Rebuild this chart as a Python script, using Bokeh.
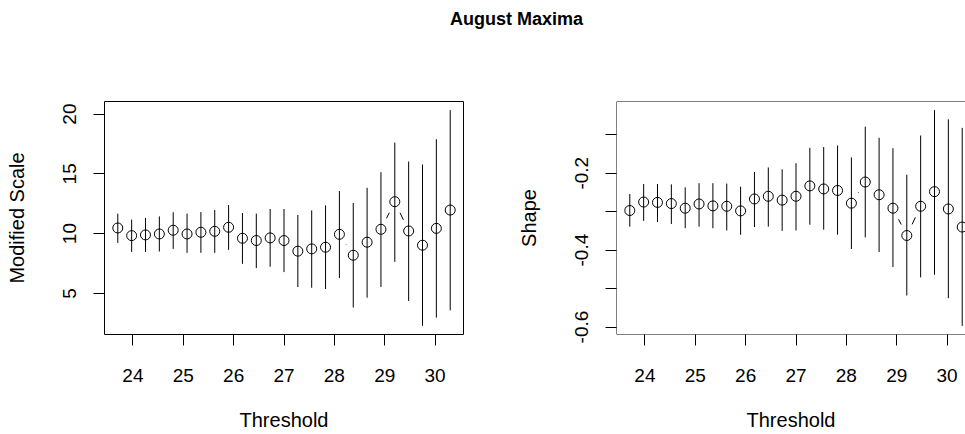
import math
from bokeh.plotting import figure
from bokeh.layouts import column, row
from bokeh.models import Range1d, FixedTicker, Span, ColumnDataSource, CustomJSTickFormatter
from bokeh.embed import file_html
from bokeh.resources import INLINE
from bokeh.core.properties import value

# ---------------- data ----------------
threshold = [23.7, 23.975, 24.25, 24.525, 24.8, 25.075, 25.35, 25.625, 25.9,
             26.175, 26.45, 26.725, 27.0, 27.275, 27.55, 27.825, 28.1, 28.375,
             28.65, 28.925, 29.2, 29.475, 29.75, 30.025, 30.3]

scale_est = [10.47, 9.83, 9.89, 9.97, 10.28, 9.97, 10.11, 10.19, 10.53, 9.61,
             9.42, 9.64, 9.42, 8.53, 8.72, 8.86, 9.94, 8.19, 9.28, 10.36,
             12.67, 10.22, 9.03, 10.44, 11.97]
scale_lo = [9.22, 8.47, 8.47, 8.50, 8.72, 8.39, 8.39, 8.39, 8.64, 7.47,
            7.11, 7.22, 6.78, 5.53, 5.47, 5.36, 6.28, 3.81, 4.64, 5.53,
            7.64, 4.36, 2.28, 2.97, 3.58]
scale_hi = [11.67, 11.17, 11.31, 11.44, 11.78, 11.67, 11.80, 11.97, 12.39, 11.72,
            11.67, 12.06, 12.06, 11.56, 11.94, 12.36, 13.56, 12.56, 13.83, 15.14,
            17.61, 16.03, 15.78, 17.89, 20.33]

shape_est = [-0.297, -0.275, -0.276, -0.279, -0.291, -0.280, -0.285, -0.286, -0.298,
             -0.267, -0.260, -0.270, -0.260, -0.233, -0.241, -0.245, -0.278, -0.223,
             -0.256, -0.291, -0.362, -0.286, -0.248, -0.293, -0.340]
shape_lo = [-0.339, -0.324, -0.327, -0.332, -0.343, -0.339, -0.343, -0.349, -0.360,
            -0.340, -0.339, -0.350, -0.349, -0.334, -0.347, -0.360, -0.397, -0.367,
            -0.405, -0.444, -0.518, -0.471, -0.464, -0.525, -0.597]
shape_hi = [-0.254, -0.228, -0.228, -0.229, -0.237, -0.226, -0.226, -0.227, -0.235,
            -0.197, -0.185, -0.190, -0.174, -0.134, -0.132, -0.128, -0.159, -0.079,
            -0.108, -0.135, -0.204, -0.102, -0.036, -0.060, -0.082]

x_ticks = [24, 25, 26, 27, 28, 29, 30]
scale_ticks = [5, 10, 15, 20]
shape_ticks = [-0.6, -0.4, -0.2]
shape_minor_ticks = [-0.5, -0.3, -0.1]

# ---------------- layout constants ----------------
FONT = "Liberation Sans"
INK = "black"
FRAME_H = 233
P1_LEFT, P1_FRAME_W, P1_RIGHT = 104, 359, 43
P2_LEFT, P2_FRAME_W = 110, 349
TITLE_H = 48
TOP = 53
BOTTOM = 100
GAP = 12.3  # px gap that R's type="b" leaves around each point


def padded(lo, hi, frac=0.04):
    span = hi - lo
    return lo - frac * span, hi + frac * span


x0, x1 = padded(min(threshold), max(threshold))
px_per_x = P1_FRAME_W / (x1 - x0)
x1_right = x0 + P2_FRAME_W / px_per_x


def gapped_segments(xs, ys, ylo, yhi):
    sy = FRAME_H / (yhi - ylo)
    out = dict(x0=[], y0=[], x1=[], y1=[])
    for i in range(len(xs) - 1):
        dx = xs[i + 1] - xs[i]
        dy = ys[i + 1] - ys[i]
        d = math.hypot(dx * px_per_x, dy * sy)
        if d <= 2 * GAP:
            continue
        f = GAP / d
        out["x0"].append(xs[i] + dx * f)
        out["y0"].append(ys[i] + dy * f)
        out["x1"].append(xs[i + 1] - dx * f)
        out["y1"].append(ys[i + 1] - dy * f)
    return out


def style_axes(p):
    p.grid.visible = False
    for ax in (p.xaxis[0], p.yaxis[0]):
        ax.axis_line_color = None
        ax.major_tick_out = 11
        ax.major_tick_in = 0
        ax.minor_tick_in = 0
        ax.minor_tick_out = 0
        ax.major_tick_line_color = INK
        ax.major_label_text_font = FONT
        ax.major_label_text_font_size = "19px"
        ax.major_label_text_color = INK
        ax.axis_label_text_font = FONT
        ax.axis_label_text_font_size = "20px"
        ax.axis_label_text_font_style = "normal"
        ax.axis_label_text_color = INK
    p.xaxis.ticker = FixedTicker(ticks=x_ticks)
    p.xaxis.major_label_standoff = 23
    p.xaxis.axis_label_standoff = 24
    p.yaxis.major_label_orientation = "parallel"
    p.yaxis.major_label_standoff = 17
    p.yaxis.axis_label_standoff = 33


def make_panel(est, lo, hi, ylabel, x_end, frame_w, left, right):
    ylo, yhi = padded(min(lo), max(hi))
    p = figure(frame_width=frame_w, frame_height=FRAME_H,
               x_range=Range1d(x0, x_end), y_range=Range1d(ylo, yhi),
               output_backend="svg", toolbar_location=None,
               min_border_left=left, min_border_right=right,
               min_border_top=TOP, min_border_bottom=BOTTOM,
               x_axis_label="Threshold", y_axis_label=ylabel)
    style_axes(p)
    src = ColumnDataSource(dict(x=threshold, y=est, lo=lo, hi=hi))
    p.segment(x0="x", y0="lo", x1="x", y1="hi", source=src,
              line_color=INK, line_width=1)
    seg = gapped_segments(threshold, est, ylo, yhi)
    p.segment(x0="x0", y0="y0", x1="x1", y1="y1",
              source=ColumnDataSource(seg), line_color=INK, line_width=1)
    p.scatter(x="x", y="y", source=src, marker="circle", size=10,
              fill_color=None, line_color=INK, line_width=1)
    return p, ylo, yhi


p1, _, _ = make_panel(scale_est, scale_lo, scale_hi, "Modified Scale",
                      x1, P1_FRAME_W, P1_LEFT, P1_RIGHT)
p1.yaxis.ticker = FixedTicker(ticks=scale_ticks)
p1.outline_line_color = INK
p1.outline_line_width = 1

p2, s_lo, s_hi = make_panel(shape_est, shape_lo, shape_hi, "Shape",
                            x1_right, P2_FRAME_W, P2_LEFT, 0)
p2.yaxis.ticker = FixedTicker(ticks=shape_ticks, minor_ticks=shape_minor_ticks)
p2.yaxis.formatter = CustomJSTickFormatter(code="return tick.toFixed(1);")
p2.yaxis.minor_tick_out = 11
p2.yaxis.minor_tick_line_color = INK
p2.outline_line_color = None
p2.add_layout(Span(location=x0, dimension="height", line_color=INK, line_width=1))
p2.add_layout(Span(location=s_lo, dimension="width", line_color=INK, line_width=1))
p2.add_layout(Span(location=s_hi, dimension="width", line_color=INK, line_width=1))

TOTAL_W = P1_LEFT + P1_FRAME_W + P1_RIGHT + P2_LEFT + P2_FRAME_W
tp = figure(width=TOTAL_W, height=TITLE_H, x_range=Range1d(0, TOTAL_W),
            y_range=Range1d(0, TITLE_H), output_backend="svg",
            toolbar_location=None, min_border=0,
            x_axis_location=None, y_axis_location=None)
tp.grid.visible = False
tp.outline_line_color = None
tp.text(x=[516], y=[TITLE_H - 18], text=["August Maxima"],
        text_font=value(FONT), text_font_size="18px", text_font_style="bold",
        text_align="center", text_baseline="middle", text_color=INK)

layout = column(tp, row(p1, p2))
open("out.html", "w").write(file_html(layout, INLINE))
